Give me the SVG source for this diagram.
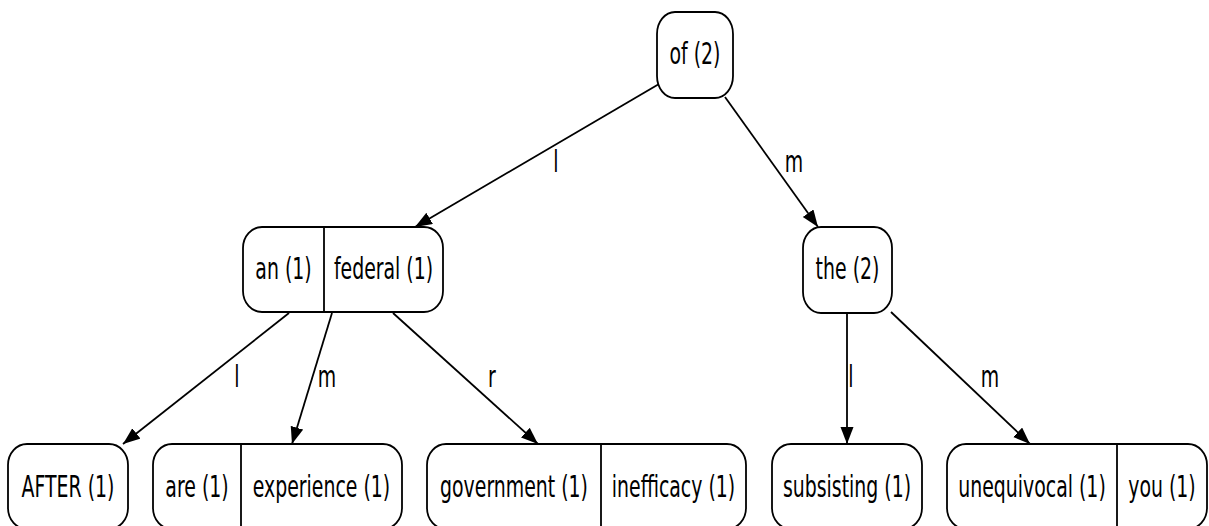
<svg xmlns="http://www.w3.org/2000/svg" width="1209" height="526" viewBox="0 0 1209 526">
<style>
.box{fill:#fff;stroke:#000;stroke-width:1.8}
.div{stroke:#000;stroke-width:1.8}
.t{font-family:"DejaVu Sans",sans-serif;font-size:30px;text-anchor:middle;fill:#000}
.e{stroke:#000;stroke-width:1.8;fill:none;marker-end:url(#arr)}
</style>
<defs>
<marker id="arr" markerUnits="userSpaceOnUse" markerWidth="18" markerHeight="14" refX="17" refY="6.5" orient="auto">
<path d="M0,0 L17,6.5 L0,13 z" fill="#000"/>
</marker>
</defs>
<rect width="1209" height="526" fill="#fff"/>
<g id="connectors">
<line class="e" x1="659" y1="84" x2="415" y2="227"/>
<line class="e" x1="725" y1="97" x2="818" y2="227"/>
<line class="e" x1="289" y1="313" x2="123" y2="444"/>
<line class="e" x1="332" y1="313" x2="292" y2="444"/>
<line class="e" x1="393" y1="313" x2="538" y2="444"/>
<line class="e" x1="847" y1="313" x2="847" y2="444"/>
<line class="e" x1="891" y1="312" x2="1030" y2="444"/>
<text class="t" transform="matrix(0.63,0,0,1,556,172)">l</text>
<text class="t" transform="matrix(0.63,0,0,1,794,172)">m</text>
<text class="t" transform="matrix(0.63,0,0,1,237,387)">l</text>
<text class="t" transform="matrix(0.63,0,0,1,327,387)">m</text>
<text class="t" transform="matrix(0.63,0,0,1,492,387)">r</text>
<text class="t" transform="matrix(0.63,0,0,1,851,387)">l</text>
<text class="t" transform="matrix(0.63,0,0,1,990,387)">m</text>
</g>
<g id="n_of">
<rect class="box" x="657" y="12" width="76" height="86" rx="18" ry="22"/>
<text class="t" transform="matrix(0.63,0,0,1,695,64)">of (2)</text>
</g>
<g id="n_an_federal">
<rect class="box" x="243" y="227" width="200" height="85" rx="19" ry="21"/>
<line class="div" x1="324" y1="227" x2="324" y2="312"/>
<text class="t" transform="matrix(0.63,0,0,1,283.5,279)">an (1)</text>
<text class="t" transform="matrix(0.63,0,0,1,383.5,279)">federal (1)</text>
</g>
<g id="n_the">
<rect class="box" x="803" y="227" width="89" height="86" rx="18" ry="21"/>
<text class="t" transform="matrix(0.63,0,0,1,847.5,279)">the (2)</text>
</g>
<g id="n_after">
<rect class="box" x="8" y="444" width="120" height="85" rx="19" ry="21"/>
<text class="t" transform="matrix(0.63,0,0,1,68,497)">AFTER (1)</text>
</g>
<g id="n_are_experience">
<rect class="box" x="153" y="444" width="249" height="85" rx="19" ry="21"/>
<line class="div" x1="241" y1="444" x2="241" y2="529"/>
<text class="t" transform="matrix(0.63,0,0,1,197,497)">are (1)</text>
<text class="t" transform="matrix(0.63,0,0,1,321.5,497)">experience (1)</text>
</g>
<g id="n_government_inefficacy">
<rect class="box" x="427" y="444" width="319" height="85" rx="19" ry="21"/>
<line class="div" x1="601" y1="444" x2="601" y2="529"/>
<text class="t" transform="matrix(0.63,0,0,1,514,497)">government (1)</text>
<text class="t" transform="matrix(0.63,0,0,1,673.5,497)">inefficacy (1)</text>
</g>
<g id="n_subsisting">
<rect class="box" x="772" y="444" width="150" height="85" rx="19" ry="21"/>
<text class="t" transform="matrix(0.63,0,0,1,847,497)">subsisting (1)</text>
</g>
<g id="n_unequivocal_you">
<rect class="box" x="947" y="444" width="260" height="85" rx="19" ry="21"/>
<line class="div" x1="1117" y1="444" x2="1117" y2="529"/>
<text class="t" transform="matrix(0.63,0,0,1,1032,497)">unequivocal (1)</text>
<text class="t" transform="matrix(0.63,0,0,1,1162,497)">you (1)</text>
</g>
</svg>
